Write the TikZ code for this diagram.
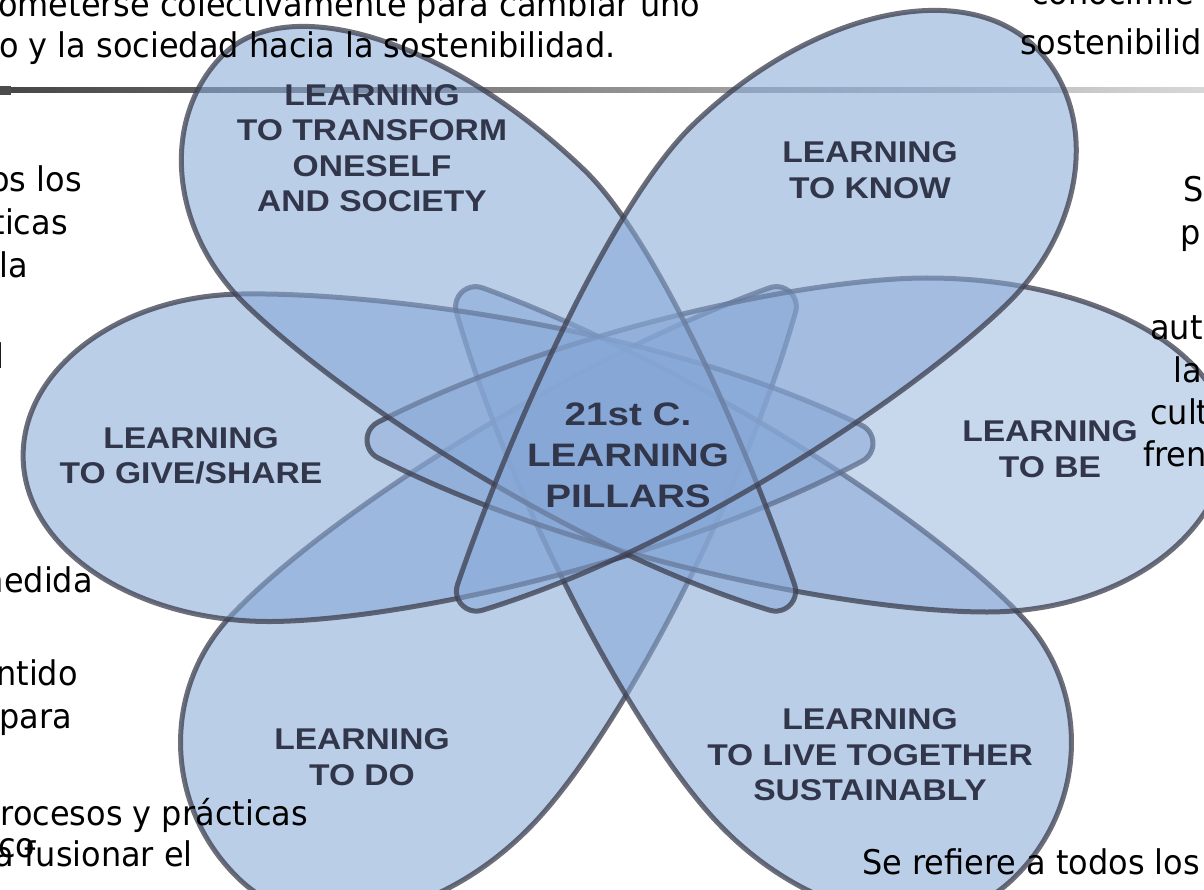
\documentclass[tikz,border=0pt]{standalone}
\usepackage{fontspec}
\setmainfont{DejaVu Sans}
\newfontfamily\slidefont[FakeStretch=0.94]{DejaVu Sans}
\newfontfamily\labfont[FakeStretch=1.12]{Liberation Sans}
\newfontfamily\cenfont[FakeStretch=1.19]{Liberation Sans}
\definecolor{petalfill}{RGB}{135,168,215}
\definecolor{petalline}{RGB}{60,62,78}
\definecolor{labelc}{RGB}{50,54,75}
\definecolor{ruledark}{RGB}{70,70,70}
\definecolor{rulelight}{RGB}{215,215,215}
\tikzset{
  petal/.style={fill=petalfill, fill opacity=0.56, draw=petalline, draw opacity=0.75, line width=5pt, line join=round},
  lightpetal/.style={petal, fill opacity=0.46},
  lab/.style={inner sep=0pt, align=center, text=labelc, font=\labfont\bfseries\fontsize{30}{35.5}\selectfont},
  cen/.style={inner sep=0pt, align=center, text=labelc, font=\cenfont\bfseries\fontsize{32.5}{41}\selectfont},
  slide/.style={inner sep=0pt, text=black, font=\slidefont\fontsize{34}{42}\selectfont},
}
% petal: style, tip x, tip y, axis angle, length, (+v side) centre and half-width, (-v side) centre and half-width
\newcommand{\petal}[9][petal]{%
\begin{scope}[shift={(#2,#3)},rotate=#4]
\path[#1] (#6,#7) arc[start angle=90,end angle=0,x radius={#5-#6},y radius=#7]
  arc[start angle=0,end angle=-90,x radius={#5-#8},y radius=#9]
  .. controls ({0.78*#8},-#9) and ({10.9+0.312*#8},{-17.8-0.159*#8}) .. (10.9,-17.8)
  arc[start angle=243,end angle=117,radius=20]
  .. controls ({10.9+0.312*#6},{17.8+0.159*#6}) and ({0.78*#6},#7) .. cycle;
\end{scope}}
\begin{document}
\begin{tikzpicture}[x=1pt,y=-1pt]
\useasboundingbox (0,0) rectangle (1204,890);
\clip (0,0) rectangle (1204,890);
\fill[white] (0,0) rectangle (1204,890);
% slide rule
\shade[left color=ruledark, right color=rulelight] (0,88) rectangle (1204,93);
\fill[black!70] (0,86) rectangle (11,95);
% petals (drawing order matters for the look of the crossings)
\petal{790}{292}{227}{805}{620}{188}{560}{175}   % to do
\petal{462}{292}{313}{805}{560}{175}{620}{188}   % to live together
\petal{873}{443}{181}{850}{630}{160}{600}{168}   % to give/share
\petal[lightpetal]{367}{440}{0}{860}{620}{172}{560}{162}     % to be
\petal{790}{605}{136}{790}{450}{170}{600}{162}   % to transform
\petal{462}{605}{44}{800}{600}{162}{500}{185}    % to know
% labels
\node[lab] (lTransform) at (372,148) {LEARNING\\TO TRANSFORM\\ONESELF\\AND SOCIETY};
\node[lab] (lKnow) at (870,170) {LEARNING\\TO KNOW};
\node[lab] (lGive) at (191,456) {LEARNING\\TO GIVE/SHARE};
\node[lab] (lBe) at (1050,449) {LEARNING\\TO BE};
\node[lab] (lDo) at (362,757) {LEARNING\\TO DO};
\node[lab] (lLive) at (870,755) {LEARNING\\TO LIVE TOGETHER\\SUSTAINABLY};
\node[cen] (lCenter) at (628,455) {21st C.\\LEARNING\\PILLARS};
% slide text around and over the picture
\node[slide, anchor=base west] (t1) at (-2,17) {ometerse colectivamente para cambiar uno};
\node[slide, anchor=base west] (t2) at (-1,58) {o y la sociedad hacia la sostenibilidad.};
\node[slide, anchor=base west] (t3) at (1031,5) {conocimie};
\node[slide, anchor=base west] (t4) at (1020,55) {sostenibilid};
\node[slide, anchor=base east] (l1) at (82,192) {os los};
\node[slide, anchor=base east] (l2) at (68,235) {ticas};
\node[slide, anchor=base east] (l3) at (28,278) {la};
\node[slide, anchor=base east] (l4) at (5,368) {l};
\node[slide, anchor=base east] (l5) at (93,592) {nedida};
\node[slide, anchor=base east] (l6) at (78,685) {ntido};
\node[slide, anchor=base east] (l7) at (72,728) {para};
\node[slide, anchor=base east] (l8) at (308,825) {rocesos y prácticas};
\node[slide, anchor=base west] (l9) at (-2,857) {co};
\node[slide, anchor=base east] (l10) at (193,866) {a fusionar el};
\node[slide, anchor=base west] (r1) at (1183,202) {S};
\node[slide, anchor=base west] (r2) at (1180,245) {p};
\node[slide, anchor=base west] (r3) at (1150,340) {aut};
\node[slide, anchor=base west] (r4) at (1173,382) {la};
\node[slide, anchor=base west] (r5) at (1150,424) {cult};
\node[slide, anchor=base west] (r6) at (1143,466) {fren};
\node[slide, anchor=base west] (b1) at (862,874) {Se refiere a todos los};
\end{tikzpicture}
\end{document}
